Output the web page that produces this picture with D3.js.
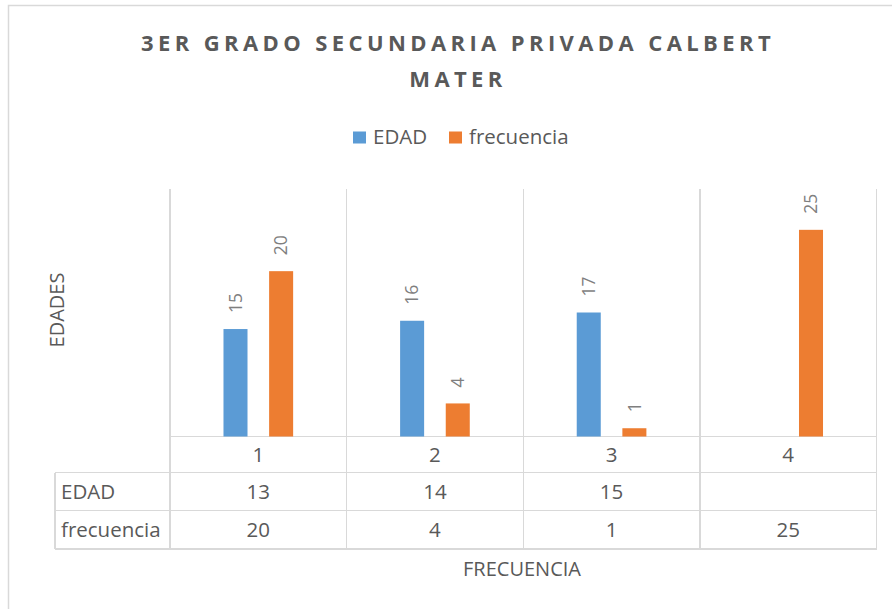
<!DOCTYPE html>
<html>
<head>
<meta charset="utf-8">
<script src="https://cdn.jsdelivr.net/npm/d3@7"></script>
<style>
  body { margin: 0; background: #fff; }
  svg { display: block; font-family: "Open Sans", sans-serif; }
</style>
</head>
<body>
<div id="chart"></div>
<script>
//chart values
const categories = ['1', '2', '3', '4'];
const seriesNames = ['EDAD', 'frecuencia'];
const edadValues = [13, 14, 15, null];
const frecuenciaValues = [20, 4, 1, 25];
const edadLabels = ['15', '16', '17', ''];   //data labels shown above the blue bars
const frecuenciaLabels = ['20', '4', '1', '25'];
const yDomain = [0, 30];

const colors = { EDAD: '#5b9bd5', frecuencia: '#ed7d31' };
const textColor = '#595959';
const gridColor = '#d9d9d9';

const W = 892, H = 609;
const svg = d3.select('#chart').append('svg')
    .attr('width', W)
    .attr('height', H);

//outer chart border (runs past the right and bottom edges)
svg.append('rect')
    .attr('x', 8.5).attr('y', 5.5)
    .attr('width', W + 20).attr('height', H + 20)
    .attr('fill', '#fff')
    .attr('stroke', gridColor)
    .attr('stroke-width', 1.5);

//title, two lines
const title = svg.append('text')
    .attr('text-anchor', 'middle')
    .attr('fill', textColor)
    .style('font-size', '22px')
    .style('font-weight', 'bold')
    .style('letter-spacing', '4.4px');
title.append('tspan').attr('x', 458).attr('y', 51).text('3ER GRADO SECUNDARIA PRIVADA CALBERT');
title.append('tspan').attr('x', 458).attr('y', 87).text('MATER');

//legend
const legend = svg.append('g');
const legendItems = [
    { name: seriesNames[0], x: 353 },
    { name: seriesNames[1], x: 449 }
];
legendItems.forEach(function(it) {
    legend.append('rect')
        .attr('x', it.x).attr('y', 131.5)
        .attr('width', 13).attr('height', 12)
        .attr('fill', colors[it.name]);
    legend.append('text')
        .attr('x', it.x + 20).attr('y', 143.5)
        .attr('fill', textColor)
        .style('font-size', '20.5px')
        .text(it.name);
});

//scales
const plotLeft = 170, plotRight = 876.5, plotTop = 188.5, plotBottom = 436.5;
const x0 = d3.scaleBand().domain(categories).range([plotLeft, plotRight]);
const x1 = d3.scaleBand().domain(seriesNames).range([0, x0.bandwidth()])
    .paddingInner(0.4737).paddingOuter(1.172);
const y = d3.scaleLinear().domain(yDomain).range([plotBottom, plotTop]);

//table rows (bottom edges)
const rowTop = plotBottom, row1 = 472.5, row2 = 510.5, row3 = 549;
const tableLeft = 55;

const grid = svg.append('g')
    .attr('stroke', gridColor)
    .attr('stroke-width', 1.5)
    .attr('shape-rendering', 'crispEdges');

//vertical gridlines on the category boundaries, running through the table
const boundaries = categories.map(c => x0(c)).concat([plotRight]);
boundaries.forEach(function(bx) {
    grid.append('line')
        .attr('x1', bx).attr('x2', bx)
        .attr('y1', plotTop).attr('y2', row3);
});
//left edge of the row header column
grid.append('line')
    .attr('x1', tableLeft).attr('x2', tableLeft)
    .attr('y1', row1).attr('y2', row3);
//horizontal table lines
grid.append('line').attr('x1', plotLeft).attr('x2', plotRight).attr('y1', rowTop).attr('y2', rowTop);
[row1, row2, row3].forEach(function(ry) {
    grid.append('line').attr('x1', tableLeft).attr('x2', plotRight).attr('y1', ry).attr('y2', ry);
});

//bars
const barData = [];
categories.forEach(function(c, i) {
    barData.push({ cat: c, series: 'EDAD', value: edadValues[i], label: edadLabels[i] });
    barData.push({ cat: c, series: 'frecuencia', value: frecuenciaValues[i], label: frecuenciaLabels[i] });
});
const shown = barData.filter(d => d.value !== null);

svg.append('g').selectAll('rect')
    .data(shown)
  .enter().append('rect')
    .attr('x', d => x0(d.cat) + x1(d.series))
    .attr('y', d => y(d.value))
    .attr('width', x1.bandwidth())
    .attr('height', d => y(0) - y(d.value))
    .attr('fill', d => colors[d.series]);

//rotated data labels above bars
svg.append('g').selectAll('text')
    .data(shown)
  .enter().append('text')
    .attr('transform', d => {
        const cx = x0(d.cat) + x1(d.series) + x1.bandwidth() / 2;
        const ty = y(d.value) - 16;
        return `translate(${cx},${ty}) rotate(-90)`;
    })
    .attr('dy', '0.36em')
    .attr('fill', '#7f7f7f')
    .style('font-size', '17.5px')
    .text(d => d.label);

//table text
const cellText = svg.append('g')
    .attr('fill', textColor)
    .style('font-size', '20.5px')
    .attr('text-anchor', 'middle');
categories.forEach(function(c, i) {
    const cx = x0(c) + x0.bandwidth() / 2;
    cellText.append('text').attr('x', cx).attr('y', 462).text(c);
    cellText.append('text').attr('x', cx).attr('y', 499).text(edadValues[i] === null ? '' : edadValues[i]);
    cellText.append('text').attr('x', cx).attr('y', 537).text(frecuenciaValues[i]);
});
svg.append('text').attr('x', 61).attr('y', 499)
    .attr('fill', textColor).style('font-size', '20.5px').text(seriesNames[0]);
svg.append('text').attr('x', 61).attr('y', 537)
    .attr('fill', textColor).style('font-size', '20.5px').text(seriesNames[1]);

//axis titles
svg.append('text')
    .attr('transform', 'translate(64,310) rotate(-90)')
    .attr('text-anchor', 'middle')
    .attr('fill', textColor)
    .style('font-size', '20px')
    .text('EDADES');
svg.append('text')
    .attr('x', 522).attr('y', 576)
    .attr('text-anchor', 'middle')
    .attr('fill', textColor)
    .style('font-size', '20px')
    .text('FRECUENCIA');
</script>
</body>
</html>
